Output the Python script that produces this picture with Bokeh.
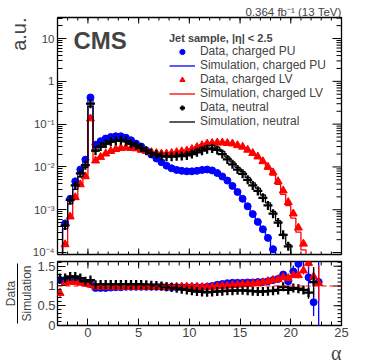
import math
from bokeh.plotting import figure
from bokeh.models import (Range1d, FixedTicker, CustomJSTickFormatter, LinearAxis, Title,
                          Label, Legend, LegendItem, Span, ColumnDataSource)
from bokeh.layouts import column
from bokeh.embed import file_html
from bokeh.resources import INLINE

# ---------------- data ----------------
BIN_WIDTH = 0.5
centers = [-2.75 + 0.5 * i for i in range(52)]          # bin centres of alpha

# Data, top panel (a.u.), starting at alpha = -2.25
data_pu = [4.8e-4, 1.8e-3, 4.6e-3, 8.7e-3, 1.48e-2, 0.42, 0.033, 0.040, 0.046, 0.050,
           0.052, 0.052, 0.048, 0.042, 0.035, 0.030, 0.024, 0.0195, 0.0158, 0.0129,
           0.0107, 9.3e-3, 8.5e-3, 8.1e-3, 7.9e-3, 7.9e-3, 8.1e-3, 8.5e-3, 8.7e-3, 8.3e-3,
           7.2e-3, 6.0e-3, 4.8e-3, 3.6e-3, 2.6e-3, 1.8e-3, 1.2e-3, 7.9e-4, 5.2e-4, 3.5e-4,
           2.2e-4, 1.2e-4]
data_lv = [1.55e-4, 6.9e-4, 1.95e-3, 3.9e-3, 6.0e-3, 0.135, 0.014, 0.017, 0.0204, 0.0234,
           0.026, 0.0275, 0.028, 0.0275, 0.027, 0.025, 0.0234, 0.022, 0.021, 0.0204,
           0.0204, 0.021, 0.022, 0.023, 0.024, 0.026, 0.029, 0.032, 0.035, 0.036,
           0.037, 0.037, 0.036, 0.035, 0.032, 0.0295, 0.025, 0.021, 0.0174, 0.0135,
           0.010, 7.4e-3, 4.6e-3, 2.8e-3, 1.5e-3, 8.1e-4, 3.8e-4, 1.6e-4]
data_neu = [4.3e-4, 1.7e-3, 3.7e-3, 7.1e-3, 0.011, 0.30, 0.024, 0.030, 0.035, 0.039,
            0.041, 0.042, 0.040, 0.035, 0.032, 0.028, 0.024, 0.021, 0.0195, 0.018,
            0.0174, 0.0174, 0.0178, 0.018, 0.0186, 0.020, 0.022, 0.024, 0.026, 0.027,
            0.025, 0.020, 0.015, 0.0115, 8.7e-3, 6.9e-3, 5.0e-3, 3.7e-3, 2.75e-3, 1.9e-3,
            1.26e-3, 8.1e-4, 5.0e-4, 2.6e-4, 1.4e-4]

# Data / Simulation, bottom panel, starting at alpha = -2.75
ratio_pu = [1.15, 1.15, 1.15, 1.17, 1.12, 1.08, 1.05,
            0.95, 0.95, 0.95, 0.96, 0.97, 0.97,
            0.98, 0.98, 0.98, 0.98, 0.98, 0.98, 0.98, 0.98,
            0.97, 0.97, 0.97, 0.97, 0.97, 0.97, 0.97, 0.97,
            0.98, 1.00, 1.03, 1.05, 1.07, 1.08, 1.08, 1.08, 1.09, 1.09, 1.10, 1.10,
            1.12, 1.15, 1.18, 1.29, 1.12, 1.37, 1.56, 1.75, 1.22, 0.59, 1.10]
ratio_lv = [0.82, 1.08, 1.10, 1.10, 1.08, 1.06, 1.03,
            0.98, 0.98, 0.98, 0.98, 0.98, 0.98, 0.98, 0.98, 0.98, 0.98, 0.98,
            0.98, 0.98, 0.98, 0.98, 0.98, 0.98, 0.98, 0.98, 0.98, 0.98,
            0.97, 0.97, 0.98, 0.99, 1.00, 1.01, 1.02, 1.03, 1.04, 1.05, 1.06, 1.07,
            1.09, 1.12, 1.15, 1.17, 1.22, 1.20, 1.27, 1.27, 1.39, 1.58, 1.24, 1.07]
ratio_neu = [1.20, 1.20, 1.24, 1.24, 1.20, 1.12, 1.15,
             1.03, 1.04, 1.04, 1.04, 1.04, 1.04, 1.04, 1.04, 1.04, 1.04,
             1.03, 1.02, 1.01, 1.00, 0.98, 0.96, 0.94, 0.92, 0.90, 0.88, 0.86,
             0.85, 0.84, 0.85, 0.86, 0.87, 0.88, 0.88, 0.89, 0.89, 0.88, 0.87, 0.86,
             0.86, 0.87, 0.88, 0.90, 0.98, 0.90, 0.95, 0.93, 0.90, 0.83, 1.10, None]

# ratio uncertainties: first bin, middle bins, last 8 bins (19.25 .. 22.75)
err_first = {"pu": 0.08, "lv": 0.12, "neu": 0.08}
err_tail_pu = [0.06, 0.08, 0.15, 0.30, 0.40, 0.35, 0.35, 1.30]
err_tail_lv = [0.05, 0.05, 0.07, 0.08, 0.10, 0.12, 0.20, 0.45]
err_tail_neu = [0.05, 0.05, 0.06, 0.08, 0.10, 0.15, 0.38, 0.0]

x_major = [0, 5, 10, 15, 20, 25]
x_minor = list(range(-3, 26))
y_major_top = [1e-4, 1e-3, 1e-2, 1e-1, 1, 10]
y_minor_top = [m * 10.0 ** e for e in range(-4, 2) for m in range(2, 10)]
y_major_ratio = [0, 0.5, 1, 1.5]
y_minor_ratio = [i / 10 for i in range(0, 17)]

BLUE, RED, BLACK = "#0000ff", "#ff0000", "#000000"
FONT = "Liberation Sans"

X0, X1 = -3, 25
Y1_LO, Y1_HI = 0.9e-4, 31
Y2_LO, Y2_HI = 0, 1.62
LEFT, RIGHT = 57, 19
W = 360
H1, T1, B1 = 257, 17, 3
H2, T2, B2 = 106, 4, 37
FW = W - LEFT - RIGHT
FH1 = H1 - T1 - B1
FH2 = H2 - T2 - B2


def nan_list(vals, n=52, offset=0):
    out = [float("nan")] * n
    for i, v in enumerate(vals):
        if i + offset < n and v is not None:
            out[i + offset] = v
    return out


def outline(xc, vals, floor=1e-7):
    xs, ys = [], []
    pairs = [(c, v) for c, v in zip(xc, vals) if not math.isnan(v)]
    xs.append(pairs[0][0] - BIN_WIDTH / 2); ys.append(floor)
    for c, v in pairs:
        xs += [c - BIN_WIDTH / 2, c + BIN_WIDTH / 2]
        ys += [v, v]
    xs.append(pairs[-1][0] + BIN_WIDTH / 2); ys.append(floor)
    return xs, ys


def y_shift(y, px, fh, lo, hi, log):
    if log:
        return 10 ** (math.log10(y) + px / fh * (math.log10(hi) - math.log10(lo)))
    return y + px / fh * (hi - lo)


def frame_ticks(p, fh, lo, hi, log, xlen, ylen, yticks, top=True, bottom=False, right=True):
    """ROOT-style inward tick marks on the frame sides that carry no axis"""
    x0s, y0s, x1s, y1s = [], [], [], []
    for ticks, L in ((x_major, xlen[0]), (x_minor, xlen[1])):
        for t in ticks:
            if top:
                x0s.append(t); y0s.append(hi); x1s.append(t); y1s.append(y_shift(hi, -L, fh, lo, hi, log))
            if bottom:
                x0s.append(t); y0s.append(lo); x1s.append(t); y1s.append(y_shift(lo, L, fh, lo, hi, log))
    if right:
        for ticks, L in ((yticks[0], ylen[0]), (yticks[1], ylen[1])):
            for t in ticks:
                if lo <= t <= hi:
                    x0s.append(X1); y0s.append(t); x1s.append(X1 - L / FW * (X1 - X0)); y1s.append(t)
    p.segment(x0=x0s, y0=y0s, x1=x1s, y1=y1s, line_color="black", line_width=1)


log_fmt = CustomJSTickFormatter(code="""
const e = Math.round(Math.log10(tick));
if (e == 0) return "1";
if (e == 1) return "10";
const sup = {"-": "\u207b", "0": "\u2070", "1": "\u00b9", "2": "\u00b2", "3": "\u00b3", "4": "\u2074"};
return "10" + String(e).split("").map(c => sup[c]).join("");
""")
plain_fmt = CustomJSTickFormatter(code="return String(tick);")


def style_axis(ax, size, maj, mnr, standoff):
    ax.axis_line_color = None
    ax.major_tick_in = maj
    ax.major_tick_out = 0
    ax.minor_tick_in = mnr
    ax.minor_tick_out = 0
    ax.major_tick_line_color = "black"
    ax.minor_tick_line_color = "black"
    ax.major_label_text_font = FONT
    ax.major_label_text_font_size = size
    ax.major_label_standoff = standoff


# ---------------- top panel ----------------
p1 = figure(width=W, height=H1, x_range=Range1d(X0, X1), y_range=Range1d(Y1_LO, Y1_HI),
            y_axis_type="log", output_backend="svg", toolbar_location=None,
            min_border_left=LEFT, min_border_right=RIGHT, min_border_top=T1, min_border_bottom=B1)
p1.grid.visible = False
p1.xaxis.visible = False
p1.outline_line_color = "black"
p1.outline_line_width = 1.3
p1.yaxis.ticker = FixedTicker(ticks=y_major_top, minor_ticks=y_minor_top)
p1.yaxis.formatter = log_fmt
style_axis(p1.yaxis[0], "11.5px", 9, 5, 3)
frame_ticks(p1, FH1, Y1_LO, Y1_HI, True, (6, 3), (9, 5), (y_major_top, y_minor_top),
            top=True, bottom=True, right=True)

p1.title.text = "0.364 fb\u207b\u00b9 (13 TeV)"
p1.title.align = "right"
p1.title.text_font = FONT
p1.title.text_font_size = "11.5px"
p1.title.text_font_style = "normal"
p1.title.standoff = 0
p1.add_layout(Title(text="a.u.", align="right", text_font=FONT, text_font_size="20px",
                    text_font_style="normal", standoff=0), "left")

series = [
    ("charged PU", data_pu, ratio_pu, BLUE, "circle", 7),
    ("charged LV", data_lv, ratio_lv, RED, "triangle", 8),
    ("neutral", data_neu, ratio_neu, BLACK, "cross", 9),
]

items = []
for name, dvals, rvals, col, mk, sz in series:
    d = nan_list(dvals, offset=1)
    r = nan_list(rvals)
    sim = [dv / rv if not (math.isnan(dv) or math.isnan(rv)) else float("nan") for dv, rv in zip(d, r)]
    xs, ys = outline(centers, sim)
    line_r = p1.line(xs, ys, line_color=col, line_width=1.3)
    src = ColumnDataSource(dict(x=[c for c, v in zip(centers, d) if not math.isnan(v)],
                                y=[v for v in d if not math.isnan(v)]))
    if mk == "cross":
        pt_r = p1.scatter("x", "y", source=src, marker=mk, size=sz, line_color=col, line_width=2.3)
    else:
        pt_r = p1.scatter("x", "y", source=src, marker=mk, size=sz, fill_color=col, line_color=col)
    items.append(LegendItem(label="Data, " + name, renderers=[pt_r]))
    items.append(LegendItem(label="Simulation, " + name, renderers=[line_r]))

legend = Legend(items=items, location="top_right", title="Jet sample, |\u03b7| < 2.5",
                title_text_font=FONT, title_text_font_style="bold", title_text_font_size="11px",
                title_standoff=0,
                label_text_font=FONT, label_text_font_size="12px",
                glyph_width=26, glyph_height=13, label_height=13, label_standoff=5,
                spacing=0, padding=0, margin=15, border_line_color=None,
                background_fill_alpha=0)
p1.add_layout(legend)

p1.add_layout(Label(x=16, y=FH1 - 36, x_units="screen", y_units="screen", text="CMS",
                    text_font=FONT, text_font_style="bold", text_font_size="24px"))

# ---------------- ratio panel ----------------
p2 = figure(width=W, height=H2, x_range=p1.x_range, y_range=Range1d(Y2_LO, Y2_HI),
            output_backend="svg", toolbar_location=None,
            min_border_left=LEFT, min_border_right=RIGHT, min_border_top=T2, min_border_bottom=B2)
p2.grid.visible = False
p2.outline_line_color = "black"
p2.outline_line_width = 1.3
p2.xaxis.ticker = FixedTicker(ticks=x_major, minor_ticks=x_minor)
p2.xaxis.formatter = plain_fmt
style_axis(p2.xaxis[0], "13px", 7, 4, 2)
p2.yaxis.ticker = FixedTicker(ticks=y_major_ratio, minor_ticks=y_minor_ratio)
p2.yaxis.formatter = plain_fmt
style_axis(p2.yaxis[0], "13px", 8, 4, 2)
p2.yaxis.axis_label = "Simulation"
p2.yaxis.axis_label_text_font = FONT
p2.yaxis.axis_label_text_font_size = "12px"
p2.yaxis.axis_label_text_font_style = "normal"
p2.yaxis.axis_label_standoff = 0
frac = LinearAxis(ticker=FixedTicker(ticks=[]), bounds=(0.06, 1.56), axis_label="Data",
                  axis_label_text_font=FONT, axis_label_text_font_size="12px",
                  axis_label_text_font_style="normal", axis_label_standoff=0,
                  major_tick_in=0, major_tick_out=0, minor_tick_in=0, minor_tick_out=0,
                  major_label_standoff=0, axis_line_color="black", axis_line_width=1)
p2.add_layout(frac, "left")
p2.add_layout(Title(text="\u03b1", align="right", text_font="Liberation Serif",
                    text_font_size="20px", text_font_style="normal", standoff=0), "below")
frame_ticks(p2, FH2, Y2_LO, Y2_HI, False, (7, 4), (8, 4), (y_major_ratio, y_minor_ratio),
            top=True, bottom=False, right=True)

p2.add_layout(Span(location=1, dimension="width", line_color=RED, line_dash="5 3", line_width=1))

tails = {"charged PU": (err_first["pu"], err_tail_pu), "charged LV": (err_first["lv"], err_tail_lv),
         "neutral": (err_first["neu"], err_tail_neu)}
for name, dvals, rvals, col, mk, sz in series:
    r = nan_list(rvals)
    e0, et = tails[name]
    errs = [e0] + [0.02] * 43 + et
    keep = [i for i in range(52) if not math.isnan(r[i])]
    src = ColumnDataSource(dict(x=[centers[i] for i in keep], y=[r[i] for i in keep],
                                lo=[r[i] - errs[i] for i in keep], hi=[r[i] + errs[i] for i in keep]))
    p2.segment(x0="x", y0="lo", x1="x", y1="hi", source=src, line_color=col, line_width=1.3)
    if mk == "cross":
        p2.scatter("x", "y", source=src, marker=mk, size=sz, line_color=col, line_width=2.3)
    else:
        p2.scatter("x", "y", source=src, marker=mk, size=sz, fill_color=col, line_color=col)

layout = column(p1, p2)
open("out.html", "w").write(file_html(layout, INLINE))
